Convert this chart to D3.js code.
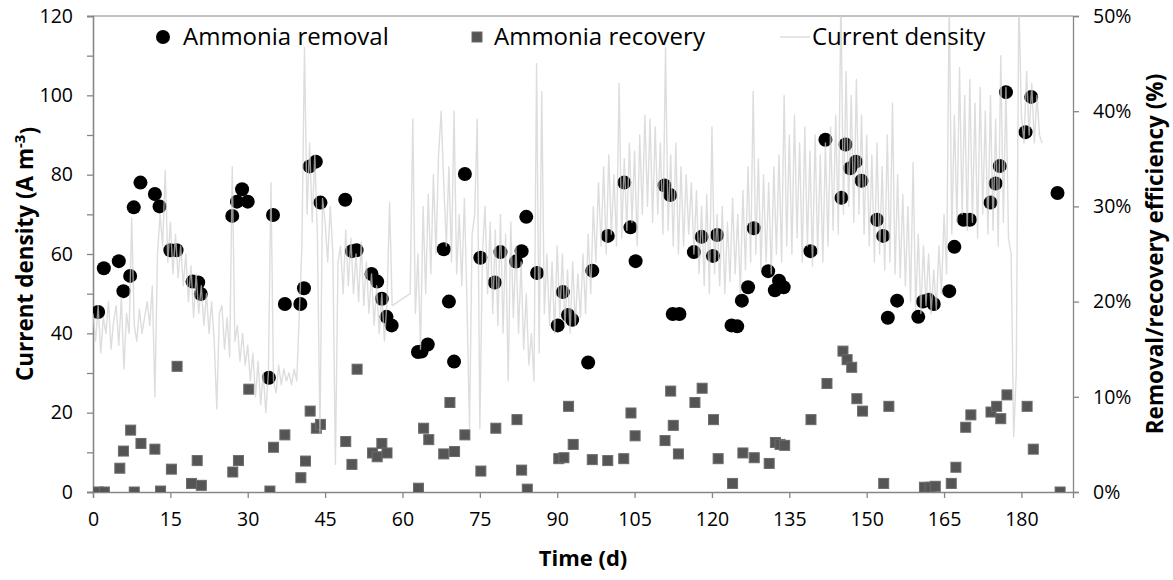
<!DOCTYPE html>
<html lang="en">
<head>
<meta charset="UTF-8">
<title>Ammonia removal, recovery and current density</title>
<script src="https://d3js.org/d3.v7.min.js"></script>
<style>
  body { margin: 0; background: #fff; }
  svg text { font-family: "Open Sans", sans-serif; fill: #000; }
</style>
</head>
<body>
<div id="chart"></div>
<script>
// ammonia removal efficiency (%) by day
const removalDay = [1, 2.1, 5, 5.9, 7.2, 7.9, 9.2, 12, 12.9, 15, 16.2, 19.3, 20.4, 20.9, 27, 27.9, 28.9, 30,
  34.1, 34.9, 37.2, 40.2, 40.9, 42, 43.2, 44.1, 48.9, 50.2, 51.1, 54, 55.1, 56, 56.9, 57.9, 63, 63.7, 64.9,
  68, 69, 70, 72.1, 75.1, 77.9, 79, 82, 83.1, 84, 86.1, 90.1, 91.1, 92.1, 92.9, 96, 96.8, 99.8, 103, 104.2,
  105.2, 110.8, 111.9, 112.4, 113.7, 116.5, 118, 120.2, 121, 123.8, 124.9, 125.8, 127, 128.1, 130.9, 132.2,
  133, 133.9, 139.1, 142, 145.1, 145.9, 146.8, 147.9, 149, 152, 153.2, 154.1, 155.9, 160, 160.9, 162, 163,
  166, 167, 168.8, 170, 174, 175, 175.8, 177, 180.8, 181.9, 187];
const removalPct = [18.9, 23.5, 24.25, 21.1, 22.7, 29.9, 32.5, 31.3, 30.0, 25.4, 25.4, 22.1, 22.0, 20.8, 29.0,
  30.5, 31.8, 30.5, 12.0, 29.1, 19.75, 19.75, 21.4, 34.2, 34.7, 30.4, 30.7, 25.3, 25.4, 22.9, 22.1, 20.3, 18.4,
  17.5, 14.7, 14.75, 15.5, 25.5, 20.0, 13.7, 33.4, 24.6, 22.0, 25.2, 24.2, 25.3, 28.9, 23.0, 17.5, 21.0, 18.6,
  18.1, 13.6, 23.25, 26.9, 32.5, 27.8, 24.25, 32.2, 31.2, 18.7, 18.7, 25.2, 26.8, 24.8, 27.0, 17.5, 17.4, 20.1,
  21.5, 27.7, 23.2, 21.2, 22.2, 21.5, 25.3, 37.0, 30.9, 36.5, 34.0, 34.7, 32.7, 28.6, 26.9, 18.3, 20.1, 18.4,
  20.0, 20.2, 19.75, 21.1, 25.75, 28.6, 28.6, 30.4, 32.4, 34.25, 42.0, 37.8, 41.5, 31.4];

// ammonia recovery efficiency (%) by day
const recoveryDay = [1, 2.2, 5.2, 5.9, 7.3, 8, 9.3, 12, 13.1, 15.2, 16.3, 19.1, 20.2, 21, 27.1, 28.2, 30.2,
  34.3, 35, 37.2, 40.3, 41.2, 42.1, 43.3, 44.1, 49, 50.2, 51.2, 54.2, 55.1, 56, 57, 63.1, 64.1, 65.1, 68, 69.2,
  70.1, 72.1, 75.2, 78.1, 82.2, 83.1, 84.2, 90.3, 91.3, 92.2, 93.1, 96.8, 99.8, 102.9, 104.3, 105.1, 110.9,
  112, 112.5, 113.5, 116.7, 118.1, 120.3, 121.2, 124, 126, 128.2, 131.1, 132.3, 133.2, 134.1, 139.2, 142.3,
  145.4, 146.2, 147.1, 148.1, 149.2, 153.3, 154.3, 161.2, 162.3, 163.3, 166.4, 167.3, 169.2, 170.2, 174.1,
  175.2, 176, 177.2, 181.1, 182.3, 187.5];
const recoveryPct = [0, 0, 2.5, 4.3, 6.5, 0, 5.1, 4.5, 0.1, 2.4, 13.2, 0.9, 3.3, 0.7, 2.1, 3.3, 10.8, 0.1, 4.7,
  6.0, 1.5, 3.25, 8.5, 6.7, 7.1, 5.3, 2.9, 12.9, 4.1, 3.7, 5.1, 4.1, 0.4, 6.7, 5.5, 4.0, 9.4, 4.25, 6.0, 2.2,
  6.7, 7.6, 2.3, 0.3, 3.5, 3.6, 9.0, 5.0, 3.4, 3.3, 3.5, 8.3, 5.9, 5.4, 10.6, 7.0, 4.0, 9.4, 10.9, 7.6, 3.5,
  0.9, 4.1, 3.6, 3.0, 5.2, 5.0, 4.9, 7.6, 11.4, 14.8, 13.9, 13.1, 9.8, 8.5, 0.9, 9.0, 0.5, 0.5, 0.6, 0.9, 2.6,
  6.8, 8.1, 8.4, 9.0, 7.7, 10.2, 9.0, 4.5, 0];

// current density (A m-3), one reading every half day from day 0; null = not logged
const cdStep = 0.5;
const currentDensity = [
  45, 38, 47, 35, 44, 40, 48, 36, 43, 47, 37, 49, 31, 45, 40, 69, 42, 38, 46, 40,
  44, 48, 42, 52, 24, 60, 70, 62, 81, 58, 68, 55, 65, 54, 62, 52, 60, 48, 57, 44,
  55, 45, 52, 42, 50, 40, 48, 38, 21, 45, 47, 36, 44, 34, 82, 38, 42, 33, 40, 32,
  37, 28, 35, 24, 33, 22, 30, 20, 30, 78, 28, 25, 32, 27, 31, 28, 30, 27, 31, 28,
  45, 62, 112, 70, 88, 68, 85, 65, 15, 74, 68, 58, 72, 60, 7, 58, 62, 50, 66, 52,
  64, 50, 60, 48, 63, 47, 58, 45, 55, 42, 52, 40, 50, 38, 48, 73, 47, null, null, null,
  null, null, null, 50, 94, 45, 60, 36, 72, 50, 75, 55, 80, 60, 85, 96, 78, 62, 82, 58,
  96, 55, 70, 52, 74, 48, 16, 65, 70, 94, 16, 60, 72, 50, 68, 45, 66, 42, 70, 40,
  65, 28, 68, 44, 62, 40, 58, 36, 50, 32, 40, 28, 108, 35, 101, 45, 60, 42, 58, 40,
  62, 44, 60, 42, 56, 40, 58, 42, 55, 44, 60, 45, 65, 50, 72, 58, 78, 62, 82, 60,
  85, 65, 80, 62, 103, 64, 84, 66, 88, 68, 86, 62, 90, 70, 95, 72, 94, 68, 92, 70,
  88, 65, 112, 66, 85, 62, 88, 60, 82, 62, 80, 65, 78, 60, 76, 55, 72, 52, 75, 50,
  92, 55, 70, 52, 72, 50, 68, 53, 74, 55, 70, 50, 76, 56, 82, 58, 101, 60, 84, 56,
  80, 58, 78, 55, 82, 60, 85, 58, 100, 62, 90, 60, 95, 64, 88, 58, 92, 62, 86, 57,
  90, 60, 85, 58, 88, 62, 92, 66, 95, 65, 125, 70, 106, 72, 100, 68, 104, 70, 95, 65,
  90, 62, 85, 58, 88, 60, 82, 56, 90, 58, 98, 55, 80, 54, 75, 52, 72, 48, 83, 46,
  65, 45, 62, 47, 60, 45, 56, 46, 62, 50, 70, 55, 125, 65, 95, 68, 107, 70, 100, 66,
  104, 68, 98, 64, 102, 70, 96, 65, 100, 66, 94, 62, 110, 68, 102, 64, 60, 14, 30, 125,
  95, 88, 106, 90, 103, 88, 100, 90, 88
];

const xTicks = [0, 15, 30, 45, 60, 75, 90, 105, 120, 135, 150, 165, 180];
const leftTicks = [0, 20, 40, 60, 80, 100, 120];
const leftMinor = [10, 30, 50, 70, 90, 110];
const rightTicks = [0, 10, 20, 30, 40, 50];
const legendLabels = ["Ammonia removal", "Ammonia recovery", "Current density"];

const W = 1173, H = 580;
const margin = { top: 16, right: 100, bottom: 88, left: 93 };
const width = W - margin.left - margin.right;
const height = H - margin.top - margin.bottom;

const svg = d3.select("#chart").append("svg")
  .attr("width", W)
  .attr("height", H);

const g = svg.append("g")
  .attr("transform", "translate(" + margin.left + "," + margin.top + ")");

const x = d3.scaleLinear().domain([0, 190]).range([0, width]);
const yLeft = d3.scaleLinear().domain([0, 120]).range([height, 0]);
const yRight = d3.scaleLinear().domain([0, 50]).range([height, 0]);

g.append("clipPath").attr("id", "plot-clip")
  .append("rect").attr("width", width).attr("height", height);

const axisColor = "#868686";

// top border of plot area
g.append("line")
  .attr("x1", 0).attr("x2", width).attr("y1", 0).attr("y2", 0)
  .attr("stroke", axisColor);

// axes
g.append("g")
  .attr("transform", "translate(0," + height + ")")
  .call(d3.axisBottom(x).tickValues(xTicks).tickSize(6).tickPadding(14));

g.append("g")
  .call(d3.axisLeft(yLeft).tickValues(leftMinor).tickSize(6).tickFormat(""));
g.append("g")
  .call(d3.axisLeft(yLeft).tickValues(leftTicks).tickSize(6).tickPadding(14));

g.append("g")
  .attr("transform", "translate(" + width + ",0)")
  .call(d3.axisRight(yRight).tickValues(rightTicks).tickSize(6).tickPadding(14)
    .tickFormat(d => d + "%"));

g.selectAll(".domain, .tick line").attr("stroke", axisColor).attr("stroke-width", 1.3);
g.selectAll(".tick text").style("font-size", "19.5px").attr("fill", "#000");

// markers
const removal = removalDay.map((d, i) => ({ day: d, pct: removalPct[i] }));
const recovery = recoveryDay.map((d, i) => ({ day: d, pct: recoveryPct[i] }));

const marks = g.append("g").attr("clip-path", "url(#plot-clip)");

marks.selectAll("circle.removal")
  .data(removal)
  .enter().append("circle")
    .attr("class", "removal")
    .attr("cx", d => x(d.day))
    .attr("cy", d => yRight(d.pct))
    .attr("r", 7)
    .attr("fill", "#000");

marks.selectAll("rect.recovery")
  .data(recovery)
  .enter().append("rect")
    .attr("class", "recovery")
    .attr("x", d => x(d.day) - 5)
    .attr("y", d => yRight(d.pct) - 5)
    .attr("width", 10)
    .attr("height", 10)
    .attr("fill", "#555")
    .attr("stroke", "#6b6b6b")
    .attr("stroke-width", 1);

// current density line, drawn over the markers
const cd = currentDensity
  .map((v, i) => ({ day: i * cdStep, v: v }))
  .filter(d => d.v !== null);

marks.append("path")
  .datum(cd)
  .attr("fill", "none")
  .attr("stroke", "#cfcfcf")
  .attr("stroke-opacity", 0.7)
  .attr("stroke-width", 1.4)
  .attr("stroke-linejoin", "round")
  .attr("d", d3.line().x(d => x(d.day)).y(d => yLeft(d.v)));

// legend
const legend = svg.append("g").attr("class", "legend");
const legY = 37;
legend.append("circle").attr("cx", 163).attr("cy", legY).attr("r", 7).attr("fill", "#000");
legend.append("rect").attr("x", 472).attr("y", legY - 5).attr("width", 10).attr("height", 10)
  .attr("fill", "#555").attr("stroke", "#6b6b6b");
legend.append("line").attr("x1", 780).attr("x2", 810).attr("y1", legY).attr("y2", legY)
  .attr("stroke", "#d4d4d4").attr("stroke-width", 1.2);
const legX = [183, 494, 812];
legendLabels.forEach((t, i) => {
  legend.append("text")
    .attr("x", legX[i])
    .attr("y", legY)
    .attr("dy", "0.35em")
    .style("font-size", "24px")
    .text(t);
});

// axis titles
svg.append("text")
  .attr("x", margin.left + width / 2)
  .attr("y", 558)
  .attr("dy", "0.35em")
  .attr("text-anchor", "middle")
  .style("font-size", "22px")
  .style("font-weight", "bold")
  .text("Time (d)");

const leftTitle = svg.append("text")
  .attr("transform", "translate(25," + (margin.top + height / 2) + ") rotate(-90)")
  .attr("text-anchor", "middle")
  .attr("dy", "0.35em")
  .style("font-size", "22.5px")
  .style("font-weight", "bold");
leftTitle.append("tspan").text("Current density (A m");
leftTitle.append("tspan").attr("dy", "-0.5em").style("font-size", "15px").text("-3");
leftTitle.append("tspan").attr("dy", "0.5em").text(")");

svg.append("text")
  .attr("transform", "translate(1155," + (margin.top + height / 2) + ") rotate(-90)")
  .attr("text-anchor", "middle")
  .attr("dy", "0.35em")
  .style("font-size", "22.5px")
  .style("font-weight", "bold")
  .text("Removal/recovery efficiency (%)");
</script>
</body>
</html>
